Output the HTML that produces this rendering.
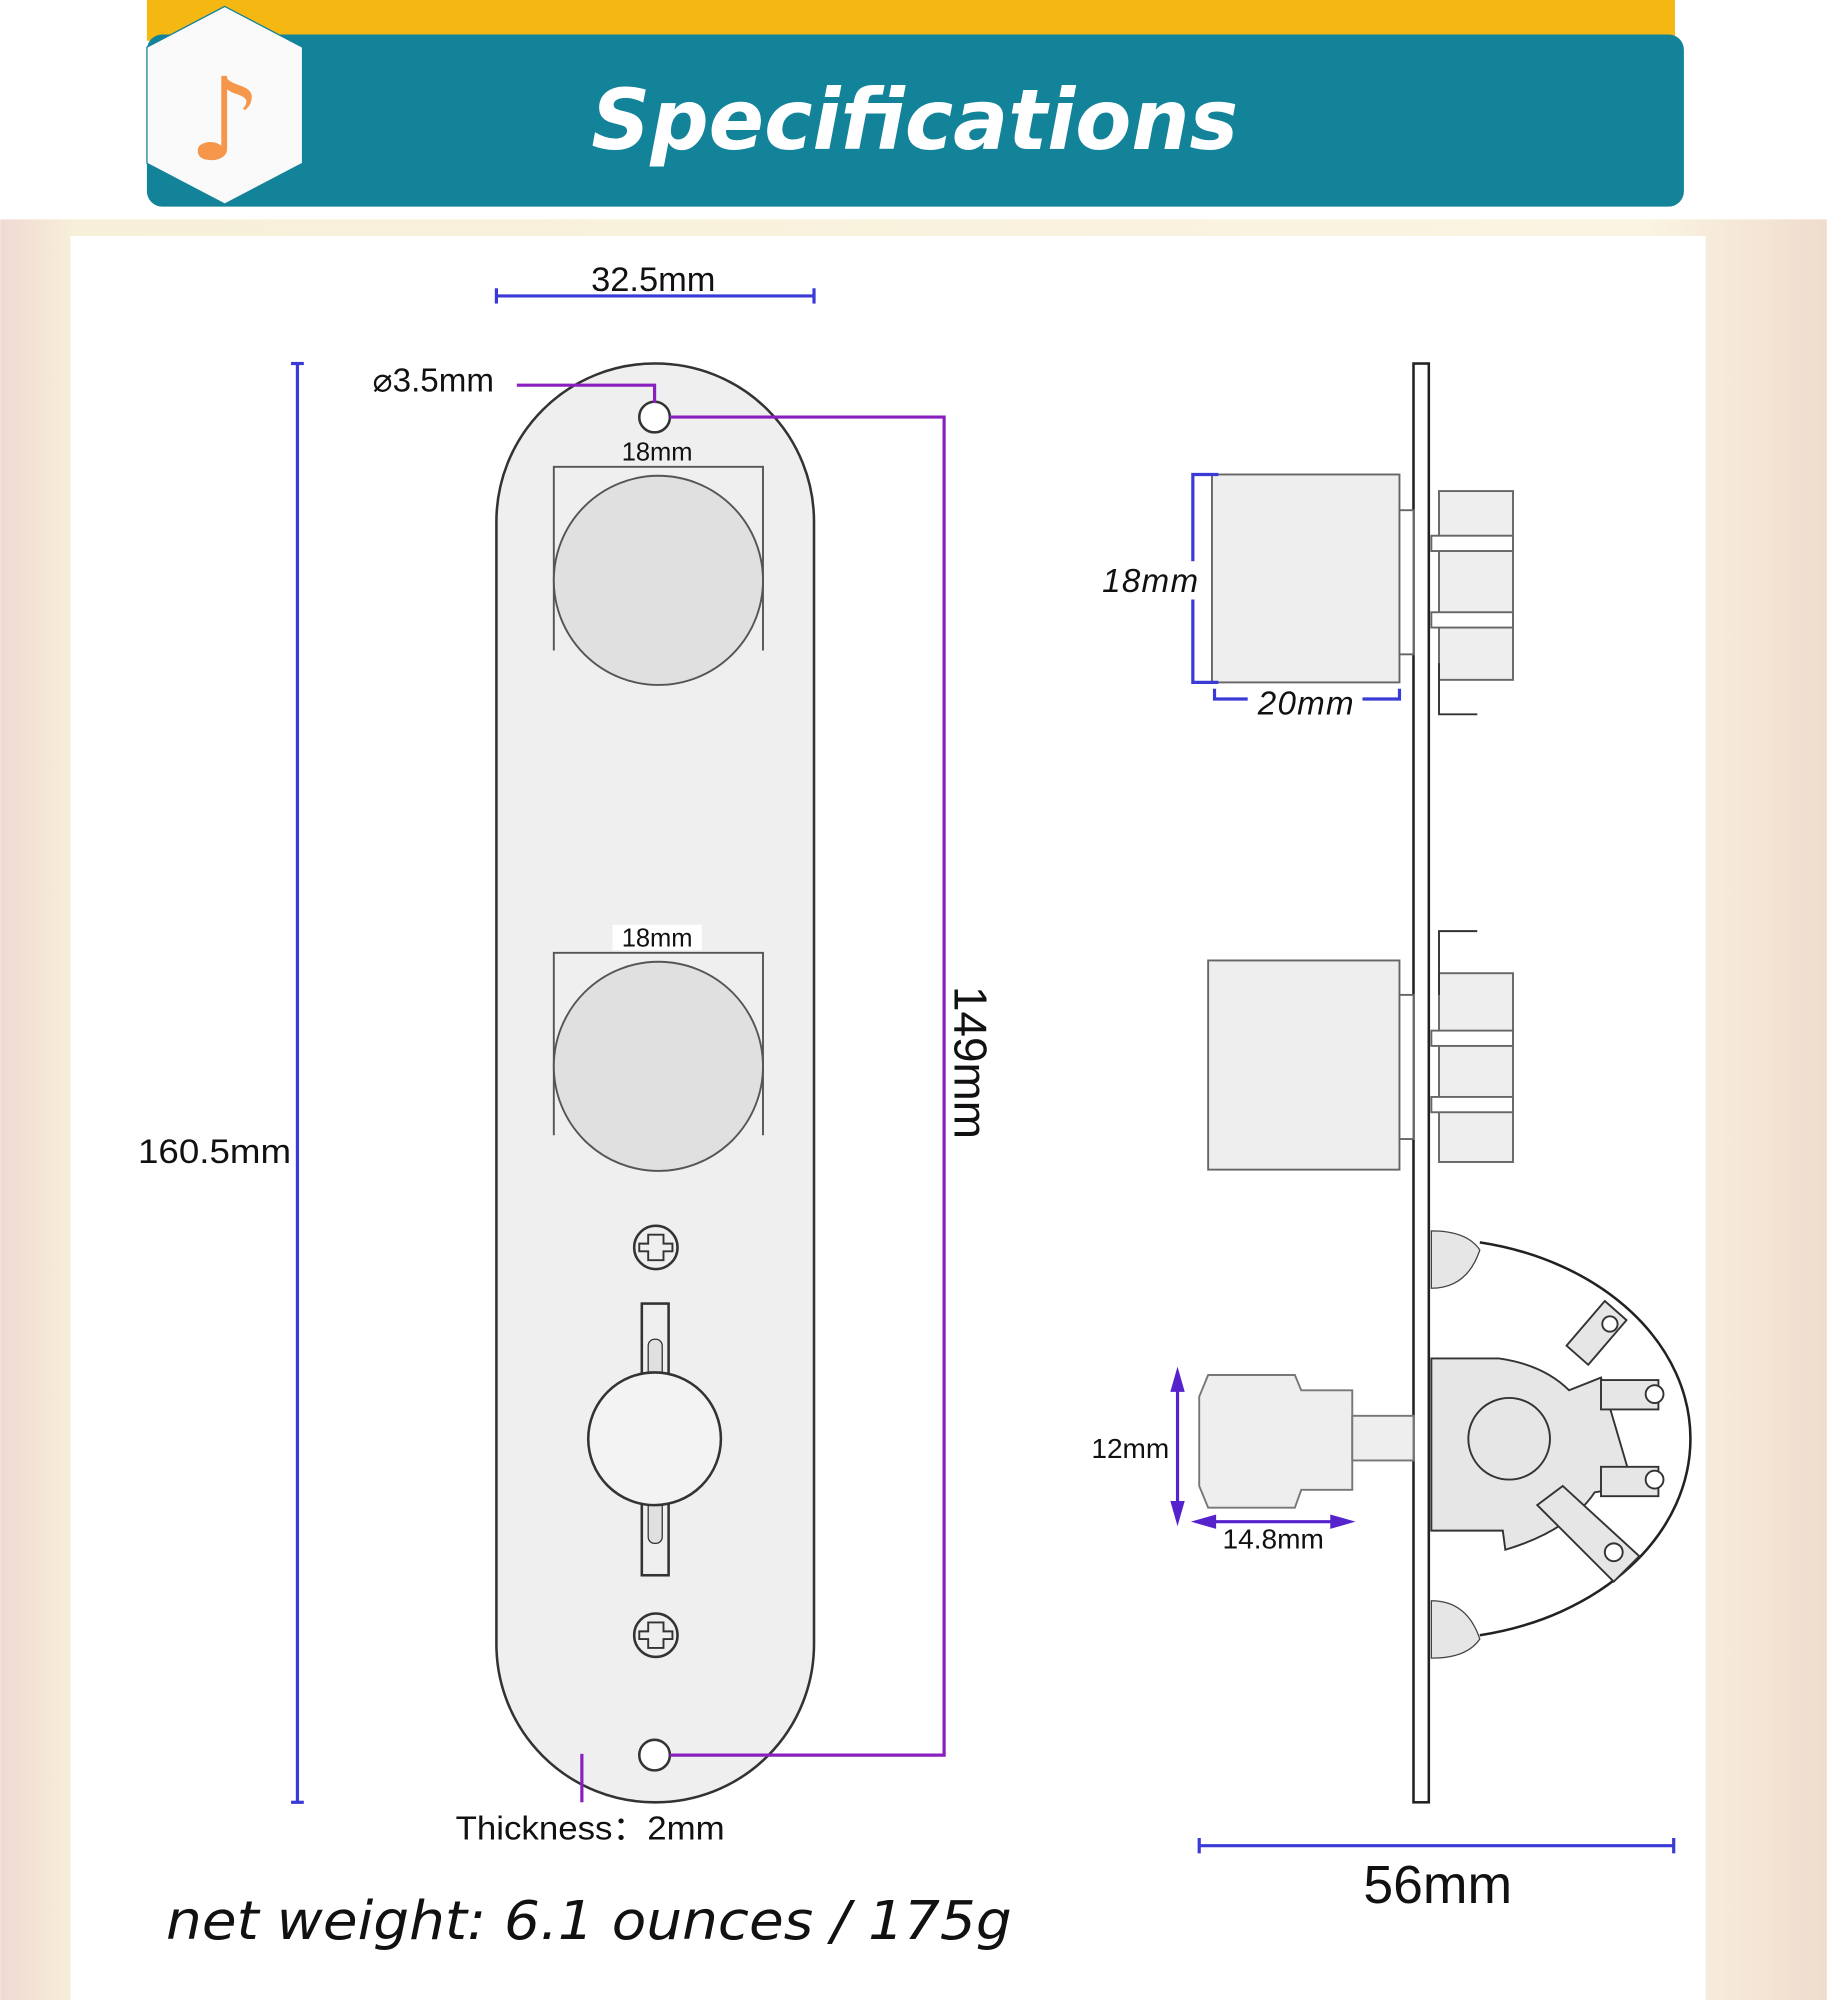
<!DOCTYPE html>
<html><head><style>html,body{margin:0;padding:0;background:#fff}svg{display:block}</style></head>
<body>
<svg width="1827" height="2000" viewBox="0 0 1432 1568" xmlns="http://www.w3.org/2000/svg" font-family="Liberation Sans, sans-serif">
<defs>
<linearGradient id="bg" x1="0" x2="1" y1="0" y2="0">
<stop offset="0" stop-color="#f1d9d3"/><stop offset="0.04" stop-color="#f7efd8"/><stop offset="0.9" stop-color="#fbf4e2"/><stop offset="1" stop-color="#efdccd"/>
</linearGradient>
</defs>
<rect width="1432" height="1568" fill="#fff"/>
<rect x="0" y="172" width="1432" height="1396" fill="url(#bg)"/>
<rect x="55" y="185" width="1282" height="1383" fill="#fff"/>
<!-- header -->
<rect x="115" y="0" width="1198" height="32" fill="#f5b812"/>
<rect x="115" y="27" width="1205" height="135" rx="12" fill="#13839a"/>
<polygon points="176,5 237,37 237,128 176,160 115,128 115,37" fill="#fafafa" stroke="#13839a" stroke-width="1"/>
<text x="176" y="125" font-size="90" fill="#f5964a" text-anchor="middle" font-family="DejaVu Sans, sans-serif">♪</text>
<text x="717" y="117" font-size="66" font-style="italic" font-weight="bold" fill="#fff" text-anchor="middle" font-family="DejaVu Sans, sans-serif" letter-spacing="0" textLength="507" lengthAdjust="spacingAndGlyphs">Specifications</text>
<!-- plate -->
<rect x="389" y="285" width="249" height="1128" rx="124" fill="#efefef" stroke="#333" stroke-width="2"/>
<path d="M434,510 V366 H598 V510" fill="none" stroke="#555" stroke-width="1.5"/>
<circle cx="516" cy="455" r="82" fill="#e0e0e0" stroke="#555" stroke-width="1.5"/>
<path d="M434,890 V747 H598 V890" fill="none" stroke="#555" stroke-width="1.5"/>
<circle cx="516" cy="836" r="82" fill="#e0e0e0" stroke="#555" stroke-width="1.5"/>
<rect x="480" y="725" width="70" height="20" fill="#fff"/>
<text x="515" y="361" font-size="20" text-anchor="middle" fill="#111">18mm</text>
<text x="515" y="742" font-size="20" text-anchor="middle" fill="#111">18mm</text>
<g stroke="#333" stroke-width="2" fill="#efefef">
<circle cx="514" cy="978" r="17"/><path d="M508,968h12v7h7v6h-7v7h-12v-7h-7v-6h7z" fill="none" stroke-width="1.5"/>
<circle cx="514" cy="1282" r="17"/><path d="M508,1272h12v7h7v6h-7v7h-12v-7h-7v-6h7z" fill="none" stroke-width="1.5"/>
<rect x="503" y="1022" width="21" height="213"/>
<rect x="508" y="1050" width="11" height="160" rx="5" fill="#e0e0e0" stroke-width="1"/>
<circle cx="513" cy="1128" r="52" fill="#f3f3f3"/>
<circle cx="513" cy="327" r="12" fill="#fff"/>
<circle cx="513" cy="1376" r="12" fill="#fff"/>
</g>
<!-- dims left -->
<g stroke="#3a3ad6" stroke-width="2.5">
<line x1="389" y1="232" x2="638" y2="232"/><line x1="389" y1="226" x2="389" y2="238"/><line x1="638" y1="226" x2="638" y2="238"/>
<line x1="233" y1="285" x2="233" y2="1413"/><line x1="228" y1="285" x2="238" y2="285"/><line x1="228" y1="1413" x2="238" y2="1413"/>
</g>
<text x="512" y="228" font-size="27" text-anchor="middle" fill="#111">32.5mm</text>
<text x="108" y="912" font-size="27" fill="#111" textLength="120" lengthAdjust="spacingAndGlyphs">160.5mm</text>
<path d="M525,327 H740 V1376 H525" fill="none" stroke="#8a1fc0" stroke-width="2.5"/>
<text transform="translate(748,833) rotate(90)" font-size="36" text-anchor="middle" fill="#111">149mm</text>
<path d="M405,302 H513 V316" fill="none" stroke="#8a1fc0" stroke-width="2.5"/>
<text x="292" y="307" font-size="26" fill="#111">⌀3.5mm</text>
<line x1="456" y1="1375" x2="456" y2="1413" stroke="#8a1fc0" stroke-width="2.5"/>
<text x="357" y="1442" font-size="26" fill="#111" textLength="211" lengthAdjust="spacingAndGlyphs">Thickness：2mm</text>
<text x="130" y="1520" font-size="42" font-style="italic" fill="#111" font-family="DejaVu Sans, sans-serif" textLength="663" lengthAdjust="spacingAndGlyphs">net weight: 6.1 ounces / 175g</text>
<!-- side view -->
<rect x="1108" y="285" width="12" height="1128" fill="#fff" stroke="#222" stroke-width="2"/>
<g stroke="#666" stroke-width="1.5" fill="#eee">
<rect x="950" y="372" width="147" height="163"/>
<rect x="1097" y="400" width="11" height="113" fill="#fff"/>
<rect x="1128" y="385" width="58" height="148"/>
<rect x="1122" y="420" width="64" height="12" fill="#fff"/>
<rect x="1122" y="480" width="64" height="12" fill="#fff"/>
<path d="M1128,520 V560 H1158" fill="none" stroke="#333"/>
<rect x="947" y="753" width="150" height="164"/>
<rect x="1097" y="780" width="11" height="113" fill="#fff"/>
<rect x="1128" y="763" width="58" height="148"/>
<rect x="1122" y="808" width="64" height="12" fill="#fff"/>
<rect x="1122" y="860" width="64" height="12" fill="#fff"/>
<path d="M1128,780 V730 H1158" fill="none" stroke="#333"/>
</g>
<g stroke="#3a3ad6" stroke-width="2.5" fill="none">
<path d="M955,372 H935 V535 H955"/>
<path d="M952,540 V548 H1097 V540"/>
</g>
<rect x="925" y="440" width="22" height="30" fill="#fff"/>
<rect x="978" y="540" width="90" height="20" fill="#fff"/>
<text x="902" y="464" font-size="26" font-style="italic" fill="#111" text-anchor="middle" letter-spacing="1">18mm</text>
<text x="1024" y="560" font-size="26" font-style="italic" fill="#111" text-anchor="middle" letter-spacing="1">20mm</text>
<!-- switch -->
<path d="M1160,974 A205,157 0 0 1 1160,1282" fill="#fff" stroke="#222" stroke-width="2"/>
<path d="M1160,980 Q1150,1010 1122,1010 V965 Q1150,965 1160,980Z" fill="#e6e6e6" stroke="#444"/>
<path d="M1160,1285 Q1150,1255 1122,1255 V1300 Q1150,1300 1160,1285Z" fill="#e6e6e6" stroke="#444"/>
<path d="M1122,1065 H1175 Q1210,1070 1230,1090 L1255,1080 L1280,1165 L1250,1170 Q1230,1200 1180,1215 L1178,1200 H1122 Z" fill="#e6e6e6" stroke="#333" stroke-width="1.5"/>
<circle cx="1183" cy="1128" r="32" fill="#e6e6e6" stroke="#333" stroke-width="1.5"/>
<g fill="#e6e6e6" stroke="#333" stroke-width="1.5">
<path d="M1228,1055 L1258,1020 L1275,1035 L1245,1070Z"/><circle cx="1262" cy="1038" r="6" fill="#fff"/>
<path d="M1255,1082 H1300 V1105 H1255Z"/><circle cx="1297" cy="1093" r="7" fill="#fff"/>
<path d="M1255,1150 H1300 V1173 H1255Z"/><circle cx="1297" cy="1160" r="7" fill="#fff"/>
<path d="M1205,1180 L1265,1240 L1285,1220 L1225,1165Z"/><circle cx="1265" cy="1217" r="7" fill="#fff"/>
</g>
<g stroke="#777" stroke-width="1.5" fill="#eee">
<path d="M947,1078 H1015 L1020,1090 H1060 V1168 H1020 L1015,1182 H947 L940,1165 V1095Z"/>
<rect x="1060" y="1110" width="48" height="35"/>
</g>
<g stroke="#5522cc" stroke-width="2.5" fill="#5522cc">
<line x1="923" y1="1085" x2="923" y2="1182"/><polygon points="923,1076 919,1090 927,1090"/><polygon points="923,1192 919,1178 927,1178"/>
<line x1="945" y1="1193" x2="1050" y2="1193"/><polygon points="938,1193 952,1189 952,1197"/><polygon points="1058,1193 1044,1189 1044,1197"/>
</g>
<text x="886" y="1143" font-size="22" text-anchor="middle" fill="#111">12mm</text>
<text x="998" y="1214" font-size="22" text-anchor="middle" fill="#111">14.8mm</text>
<g stroke="#3a3ad6" stroke-width="2.5">
<line x1="940" y1="1447" x2="1312" y2="1447"/><line x1="940" y1="1441" x2="940" y2="1453"/><line x1="1312" y1="1441" x2="1312" y2="1453"/>
</g>
<text x="1127" y="1492" font-size="42" text-anchor="middle" fill="#111">56mm</text>
</svg>
</body></html>
